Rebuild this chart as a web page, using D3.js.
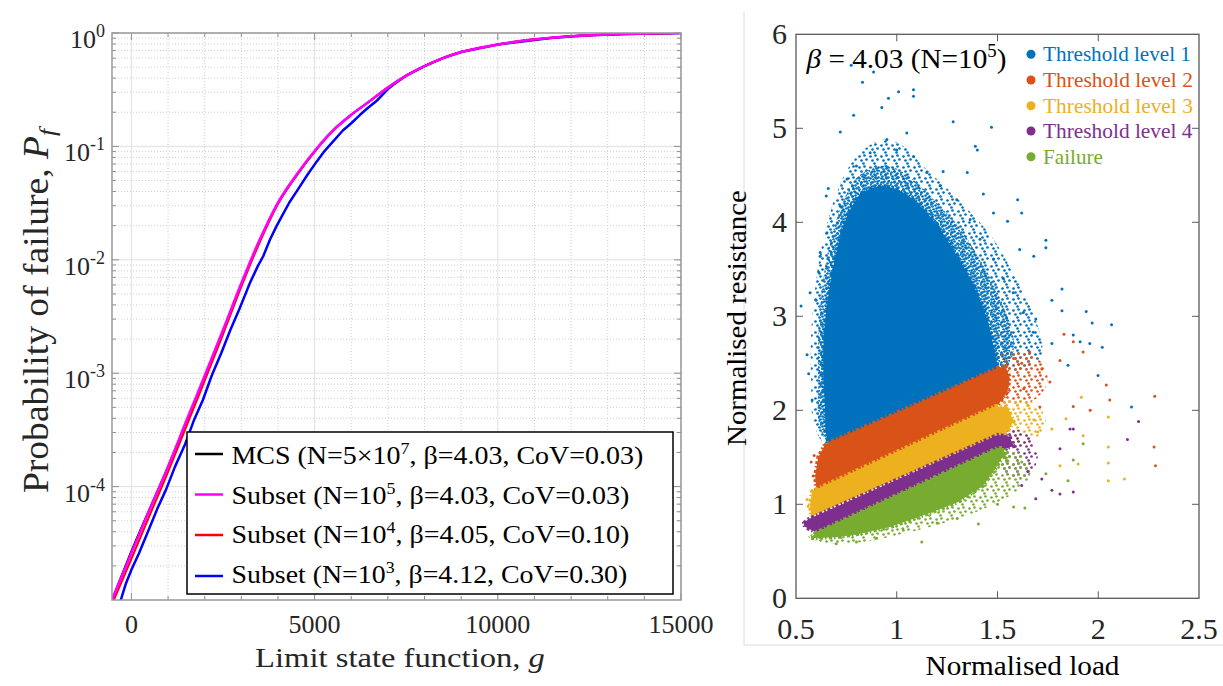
<!DOCTYPE html>
<html>
<head>
<meta charset="utf-8">
<script src="https://cdn.jsdelivr.net/npm/d3@7"></script>
<style>
  body { margin: 0; background: #fff; }
  svg { display: block; }
  text { font-family: "Liberation Serif", "Times New Roman", serif; }
</style>
</head>
<body>
<div id="vis"></div>
<script>
// ---------- left panel: Pf vs limit state function ----------
const gTicks = [0, 5000, 10000, 15000];
const gTickLabels = ["0", "5000", "10000", "15000"];
const pfTicks = [1, 0.1, 0.01, 0.001, 0.0001];
const pfTickExp = ["0", "-1", "-2", "-3", "-4"];

const gMCS = [-530, 0, 500, 1000, 1500, 2000, 2500, 3000, 3500, 4000, 4500, 5000, 5500, 6000, 6500, 7000, 7500, 8000, 8500, 9000, 9500, 10000, 10700, 11500, 12500, 13500, 15000];
const pfMCS = [1.0e-5, 2.7e-5, 6.4e-5, 1.5e-4, 3.7e-4, 9.3e-4, 2.35e-3, 6.1e-3, 0.0148, 0.0315, 0.055, 0.090, 0.137, 0.19, 0.25, 0.33, 0.42, 0.51, 0.60, 0.68, 0.74, 0.79, 0.86, 0.91, 0.955, 0.982, 1.0];

const gSub5 = [-530, 0, 500, 1000, 1500, 2000, 2500, 3000, 3500, 4000, 4500, 5000, 5500, 6000, 6500, 7000, 7500, 8000, 8500, 9000, 9500, 10000, 10700, 11500, 12500, 13500, 15000];
const pfSub5 = [1.0e-5, 2.6e-5, 6.3e-5, 1.5e-4, 3.8e-4, 9.5e-4, 2.4e-3, 6.2e-3, 0.015, 0.032, 0.056, 0.091, 0.138, 0.19, 0.25, 0.33, 0.42, 0.51, 0.60, 0.68, 0.74, 0.79, 0.86, 0.91, 0.955, 0.982, 1.0];

const gSub4 = [-480, 0, 500, 1000, 1500, 2000, 2500, 3000, 3500, 4000, 4500, 5000, 5500, 6000, 6500, 7000, 7500, 8000, 9000, 10000, 11500, 13500, 15000];
const pfSub4 = [1.0e-5, 2.3e-5, 5.6e-5, 1.35e-4, 3.4e-4, 8.6e-4, 2.2e-3, 5.8e-3, 0.0142, 0.031, 0.055, 0.090, 0.137, 0.19, 0.25, 0.33, 0.42, 0.51, 0.68, 0.79, 0.91, 0.982, 1.0];

const gSub3 = [-290, -150, 0, 210, 450, 700, 950, 1190, 1450, 1700, 1950, 2190, 2450, 2700, 2950, 3230, 3450, 3600, 3780, 3950, 4100, 4310, 4550, 4800, 5050, 5270, 5500, 5770, 6000, 6240, 6450, 6680, 6850, 7000, 7200, 7500, 8000, 8500, 9000, 10000, 11500, 12500, 13500, 15000];
const pfSub3 = [1.0e-5, 1.4e-5, 1.85e-5, 2.6e-5, 4.0e-5, 6.3e-5, 9.5e-5, 1.5e-4, 2.3e-4, 3.8e-4, 5.8e-4, 9.5e-4, 1.5e-3, 2.4e-3, 3.7e-3, 6.2e-3, 8.8e-3, 0.0108, 0.015, 0.0195, 0.024, 0.032, 0.042, 0.056, 0.073, 0.091, 0.110, 0.138, 0.16, 0.19, 0.218, 0.25, 0.285, 0.32, 0.36, 0.42, 0.51, 0.60, 0.68, 0.79, 0.91, 0.955, 0.982, 1.0];

const seriesNames = ["MCS", "Subset", "Subset", "Subset"];
const seriesN = ["5×10", "10", "10", "10"];
const seriesExp = ["7", "5", "4", "3"];
const seriesBeta = ["4.03", "4.03", "4.05", "4.12"];
const seriesCoV = ["0.03", "0.03", "0.10", "0.30"];
const seriesColors = ["#000000", "#ff00ff", "#ff0000", "#0000ff"];

// ---------- right panel: scatter of samples ----------
const loadTicks = [0.5, 1, 1.5, 2, 2.5];
const loadTickLabels = ["0.5", "1", "1.5", "2", "2.5"];
const resTicks = [0, 1, 2, 3, 4, 5, 6];
const levelNames = ["Threshold level 1", "Threshold level 2", "Threshold level 3", "Threshold level 4", "Failure"];
const levelColors = ["#0072BD", "#D95319", "#EDB120", "#7E2F8E", "#77AC30"];

// outlines of the clouds [load, resistance]: sparse fringe, thick fringe, solid core
const blueOuter = [[0.59, 1.85], [0.575, 2.3], [0.575, 2.8], [0.59, 3.2], [0.615, 3.6], [0.65, 3.95], [0.70, 4.3], [0.76, 4.58], [0.84, 4.78], [0.94, 4.88], [1.04, 4.8], [1.13, 4.6], [1.24, 4.38], [1.36, 4.12], [1.48, 3.82], [1.58, 3.45], [1.66, 3.12], [1.71, 2.82], [1.72, 2.6], [1.66, 2.45], [1.55, 2.4], [1.0, 1.9], [0.66, 1.62]];
const blueInner = [[0.62, 1.80], [0.61, 2.3], [0.61, 2.8], [0.625, 3.2], [0.65, 3.6], [0.69, 3.95], [0.74, 4.25], [0.80, 4.47], [0.88, 4.58], [0.96, 4.6], [1.04, 4.52], [1.12, 4.38], [1.21, 4.18], [1.31, 3.95], [1.40, 3.65], [1.48, 3.35], [1.54, 3.05], [1.58, 2.78], [1.57, 2.55], [1.52, 2.42], [1.0, 1.92], [0.69, 1.62]];
const blueCore = [[0.655, 1.70], [0.645, 1.95], [0.638, 2.3], [0.635, 2.65], [0.648, 3.0], [0.67, 3.35], [0.70, 3.68], [0.735, 3.95], [0.777, 4.17], [0.827, 4.31], [0.885, 4.37], [0.95, 4.38], [1.017, 4.33], [1.083, 4.24], [1.15, 4.10], [1.215, 3.93], [1.28, 3.71], [1.347, 3.47], [1.41, 3.19], [1.455, 2.92], [1.48, 2.68], [1.50, 2.46], [1.50, 2.40], [1.0, 1.92], [0.69, 1.62]];
const orangeHalo = [[1.45, 2.48], [1.55, 2.62], [1.66, 2.6], [1.74, 2.45], [1.74, 2.25], [1.66, 2.08], [1.55, 2.05], [1.48, 2.1]];
const orangeCore = [[0.61, 1.50], [0.64, 1.62], [0.66, 1.655], [1.0, 1.975], [1.50, 2.45], [1.54, 2.47], [1.56, 2.35], [1.55, 2.2], [1.50, 2.05], [0.60, 1.155], [0.595, 1.30]];
const yellowHalo = [[1.48, 2.0], [1.58, 2.12], [1.68, 2.08], [1.74, 1.9], [1.70, 1.72], [1.60, 1.62], [1.50, 1.70]];
const yellowCore = [[0.58, 1.14], [1.49, 2.045], [1.55, 2.03], [1.58, 1.88], [1.54, 1.74], [1.50, 1.738], [0.575, 0.87], [0.57, 1.0]];
const purpleHalo = [[1.47, 1.70], [1.57, 1.80], [1.66, 1.72], [1.70, 1.50], [1.65, 1.30], [1.56, 1.30], [1.48, 1.50]];
const purpleCore = [[0.56, 0.84], [1.50, 1.738], [1.56, 1.72], [1.58, 1.62], [1.55, 1.60], [1.50, 1.60], [0.60, 0.70], [0.545, 0.76], [0.54, 0.80]];
const greenHalo = [[0.56, 0.66], [0.62, 0.60], [0.80, 0.59], [0.98, 0.66], [1.15, 0.75], [1.32, 0.86], [1.46, 0.98], [1.58, 1.12], [1.66, 1.30], [1.64, 1.50], [1.55, 1.58], [1.45, 1.50], [0.60, 0.70]];
const greenCore = [[0.60, 0.70], [1.50, 1.60], [1.53, 1.60], [1.55, 1.45], [1.53, 1.52], [1.49, 1.38], [1.43, 1.20], [1.30, 1.02], [1.13, 0.88], [0.97, 0.76], [0.80, 0.68], [0.70, 0.65], [0.571, 0.64]];

// scattered single samples [load, resistance]
const bluePts = [[0.774, 5.67], [0.885, 5.60], [0.83, 5.49], [1.009, 5.39], [1.083, 5.41], [1.083, 5.34], [0.959, 5.32], [0.926, 5.22], [0.786, 5.14], [0.72, 4.96], [1.05, 4.95], [1.28, 5.07], [1.47, 5.01], [1.39, 4.81], [1.40, 4.77], [1.35, 4.53], [1.23, 4.54], [0.66, 4.36], [0.65, 4.28], [1.43, 4.30], [1.60, 4.24], [1.62, 4.10], [1.48, 4.10], [1.55, 4.01], [1.74, 3.81], [1.74, 3.73], [1.61, 3.71], [1.68, 3.64], [0.62, 3.64], [0.57, 3.25], [0.525, 3.11], [0.60, 3.17], [1.82, 3.29], [1.77, 3.17], [1.94, 3.05], [1.97, 2.93], [2.066, 2.91], [1.876, 2.80], [1.82, 3.06], [1.69, 2.97], [0.555, 2.59], [0.563, 2.39], [0.58, 2.11], [2.02, 2.67], [1.999, 2.37], [1.958, 2.71], [2.165, 2.035], [1.91, 2.73], [1.85, 2.48], [1.77, 2.71], [0.951, 4.88], [1.0, 4.77], [0.868, 4.74], [1.083, 4.70], [0.80, 4.60], [1.149, 4.53], [1.215, 4.39], [0.753, 4.46], [0.72, 4.17], [1.298, 4.24], [1.364, 4.03], [1.413, 3.82], [1.48, 3.61], [1.53, 3.40], [1.578, 3.25], [1.628, 3.04], [1.678, 2.83], [0.654, 3.89], [0.62, 3.68], [0.612, 3.47]];
const orangePts = [[1.83, 2.81], [1.876, 2.73], [1.925, 2.62], [1.81, 2.53], [2.04, 2.27], [2.057, 2.11], [2.28, 2.15], [2.277, 1.61], [2.284, 1.41], [1.96, 2.0], [1.876, 2.04], [1.76, 2.30], [1.72, 2.44], [1.66, 2.62], [1.71, 2.035], [1.63, 2.23], [0.575, 1.45], [0.585, 1.30], [0.59, 1.52], [1.58, 2.55], [1.62, 2.5]];
const yellowPts = [[2.05, 1.93], [2.05, 1.61], [2.05, 1.44], [2.05, 1.25], [2.13, 1.27], [1.925, 1.73], [1.916, 2.14], [1.90, 1.43], [1.81, 1.41], [1.77, 1.80], [1.84, 1.91], [1.70, 1.77], [0.555, 1.05], [0.56, 0.98], [1.65, 2.05], [1.68, 1.9]];
const purplePts = [[2.20, 1.88], [2.145, 1.69], [1.876, 1.80], [1.86, 1.80], [1.81, 1.11], [1.876, 1.13], [1.69, 1.06], [1.77, 1.15], [1.81, 1.59], [1.72, 1.27], [0.546, 0.79], [1.65, 1.35], [1.62, 1.2]];
const greenPts = [[1.925, 1.645], [1.876, 1.47], [1.85, 1.25], [1.74, 1.325], [1.636, 0.96], [1.58, 0.97], [1.405, 0.79], [1.124, 0.60], [1.03, 0.74], [0.70, 0.58], [1.62, 1.45], [0.9, 0.64], [0.8, 0.6], [1.2, 0.8], [1.3, 0.85], [1.5, 1.0]];

const FONT = "Liberation Serif, Times New Roman, serif";

const svg = d3.select("#vis").append("svg")
  .attr("width", 1223)
  .attr("height", 686);
const defs = svg.append("defs");

// draws a text inside a group, then stretches it to the wanted width
const fitted = (parent, x, y, o) => {
  const g = parent.append("g");
  const t = g.append("text")
    .attr("font-family", FONT)
    .attr("text-anchor", o.anchor || "start")
    .style("font-size", o.size + "px")
    .attr("fill", o.color || "#000");
  o.build(t);
  const w = t.node().getBBox().width;
  const k = o.width ? o.width / w : 1;
  g.attr("transform", `translate(${x},${y}) rotate(${o.rotate || 0}) scale(${k},1)`);
  return g;
};

// ================= LEFT =================
const L = { left: 112, right: 681, top: 33, bottom: 600 };
const xG = d3.scaleLinear().domain([-530, 15000]).range([L.left, L.right]);
const yP = d3.scaleLog().domain([1e-5, 1]).range([L.bottom, L.top]);

defs.append("clipPath").attr("id", "clipL")
  .append("rect").attr("x", L.left).attr("y", L.top)
  .attr("width", L.right - L.left).attr("height", L.bottom - L.top);

const gMinor = d3.range(1000, 15000, 1000).filter(v => v % 5000 !== 0);
const pfMinor = yP.ticks().filter(v => !pfTicks.includes(v) && v > 1e-5 && v < 1);

const left = svg.append("g");

left.selectAll(".gmin").data(gMinor).join("line")
  .attr("x1", d => xG(d)).attr("x2", d => xG(d))
  .attr("y1", L.top).attr("y2", L.bottom)
  .attr("stroke", "#cfcfcf").attr("stroke-dasharray", "1,2");
left.selectAll(".pmin").data(pfMinor).join("line")
  .attr("x1", L.left).attr("x2", L.right)
  .attr("y1", d => yP(d)).attr("y2", d => yP(d))
  .attr("stroke", "#cfcfcf").attr("stroke-dasharray", "1,2");
left.selectAll(".gmaj").data(gTicks).join("line")
  .attr("x1", d => xG(d)).attr("x2", d => xG(d))
  .attr("y1", L.top).attr("y2", L.bottom)
  .attr("stroke", "#e1e1e1");
left.selectAll(".pmaj").data(pfTicks).join("line")
  .attr("x1", L.left).attr("x2", L.right)
  .attr("y1", d => yP(d)).attr("y2", d => yP(d))
  .attr("stroke", "#e1e1e1");

// inward ticks
const tickColor = "#8f8f8f";
[[gTicks, 7], [gMinor, 4]].forEach(([vals, len]) => {
  vals.forEach(v => {
    left.append("line").attr("x1", xG(v)).attr("x2", xG(v)).attr("y1", L.bottom).attr("y2", L.bottom - len).attr("stroke", tickColor);
    left.append("line").attr("x1", xG(v)).attr("x2", xG(v)).attr("y1", L.top).attr("y2", L.top + len).attr("stroke", tickColor);
  });
});
[[pfTicks, 7], [pfMinor, 4]].forEach(([vals, len]) => {
  vals.forEach(v => {
    left.append("line").attr("x1", L.left).attr("x2", L.left + len).attr("y1", yP(v)).attr("y2", yP(v)).attr("stroke", tickColor);
    left.append("line").attr("x1", L.right).attr("x2", L.right - len).attr("y1", yP(v)).attr("y2", yP(v)).attr("stroke", tickColor);
  });
});

// curves
const curves = [
  { g: gSub3, pf: pfSub3, color: seriesColors[3], w: 2.5, curve: d3.curveLinear },
  { g: gMCS, pf: pfMCS, color: seriesColors[0], w: 2, curve: d3.curveMonotoneX },
  { g: gSub4, pf: pfSub4, color: seriesColors[2], w: 2, curve: d3.curveMonotoneX },
  { g: gSub5, pf: pfSub5, color: seriesColors[1], w: 2.6, curve: d3.curveMonotoneX }
];
const curveG = left.append("g").attr("clip-path", "url(#clipL)");
curves.forEach(c => {
  const pts = c.g.map((g, i) => [g, c.pf[i]]);
  curveG.append("path")
    .datum(pts)
    .attr("fill", "none")
    .attr("stroke", c.color)
    .attr("stroke-width", c.w)
    .attr("stroke-linejoin", "round")
    .attr("d", d3.line().curve(c.curve).x(d => xG(d[0])).y(d => yP(d[1])));
});

left.append("rect")
  .attr("x", L.left).attr("y", L.top)
  .attr("width", L.right - L.left).attr("height", L.bottom - L.top)
  .attr("fill", "none").attr("stroke", "#999").attr("stroke-width", 1.5);

// tick labels
gTicks.forEach((v, i) => {
  left.append("text")
    .attr("font-family", FONT)
    .attr("x", xG(v)).attr("y", 633)
    .attr("text-anchor", "middle")
    .style("font-size", "26px")
    .attr("fill", "#262626")
    .text(gTickLabels[i]);
});
pfTicks.forEach((v, i) => {
  const t = left.append("text")
    .attr("font-family", FONT)
    .attr("x", 105).attr("y", yP(v) + 15)
    .attr("text-anchor", "end")
    .style("font-size", "26px")
    .attr("fill", "#262626");
  t.append("tspan").text("10");
  t.append("tspan").attr("dy", -11).style("font-size", "18px").text(pfTickExp[i]);
});

fitted(left, 400, 667, {
  size: 28, width: 290, anchor: "middle", color: "#262626",
  build: t => {
    t.append("tspan").text("Limit state function, ");
    t.append("tspan").style("font-style", "italic").text("g");
  }
});
fitted(left, 48, 311, {
  size: 35, width: 368, anchor: "middle", rotate: -90, color: "#262626",
  build: t => {
    t.append("tspan").text("Probability of failure, ");
    t.append("tspan").style("font-style", "italic").text("P");
    t.append("tspan").attr("dy", 7).style("font-style", "italic").style("font-size", "24px").text("f");
  }
});

// legend
left.append("rect")
  .attr("x", 187).attr("y", 432).attr("width", 486).attr("height", 162)
  .attr("fill", "#fff").attr("stroke", "#000").attr("stroke-width", 1.5);
const rowLine = [454, 494.5, 535, 576];
const rowBase = [464, 504, 543, 583];
const rowWidth = [412, 398, 398, 396];
seriesNames.forEach((name, i) => {
  left.append("line")
    .attr("x1", 195).attr("x2", 223)
    .attr("y1", rowLine[i]).attr("y2", rowLine[i])
    .attr("stroke", seriesColors[i]).attr("stroke-width", 2.5);
  fitted(left, 231.5, rowBase[i], {
    size: 25, width: rowWidth[i],
    build: t => {
      t.append("tspan").text(`${name} (N=${seriesN[i]}`);
      t.append("tspan").attr("dy", -10).style("font-size", "16px").text(seriesExp[i]);
      t.append("tspan").attr("dy", 10).text(`, β=${seriesBeta[i]}, CoV=${seriesCoV[i]})`);
    }
  });
});

// ================= RIGHT =================
const R = { left: 796, right: 1199, top: 34.3, bottom: 598.3 };
const xL = d3.scaleLinear().domain([0.5, 2.5]).range([R.left, R.right]);
const yR = d3.scaleLinear().domain([0, 6]).range([R.bottom, R.top]);

const right = svg.append("g");

// faint panel border
right.append("line").attr("x1", 744).attr("x2", 744).attr("y1", 12).attr("y2", 645).attr("stroke", "#dcdcdc");
right.append("line").attr("x1", 744).attr("x2", 1223).attr("y1", 645).attr("y2", 645).attr("stroke", "#dcdcdc");

defs.append("clipPath").attr("id", "clipR")
  .append("rect").attr("x", R.left).attr("y", R.top)
  .attr("width", R.right - R.left).attr("height", R.bottom - R.top);

// speckle textures for the thinning edges of each cloud
const denseDots = [[1, 2], [4, 1], [7, 3], [2, 6], [5, 5], [8, 7], [3, 9], [6, 8], [9, 0], [0, 4]];
const sparseDots = [[1, 2], [6, 1], [3, 6], [8, 5], [5, 9]];
levelColors.forEach((c, i) => {
  [["dense", denseDots, 10], ["sparse", sparseDots, 11]].forEach(([kind, dots, size]) => {
    const p = defs.append("pattern")
      .attr("id", `${kind}${i}`)
      .attr("patternUnits", "userSpaceOnUse")
      .attr("width", size).attr("height", size);
    p.selectAll("circle").data(dots).join("circle")
      .attr("cx", d => d[0] + 0.5).attr("cy", d => d[1] + 0.5)
      .attr("r", 1.35).attr("fill", c);
  });
});

const cloud = right.append("g").attr("clip-path", "url(#clipR)");
const area = d3.line().x(d => xL(d[0])).y(d => yR(d[1]));
const smooth = d3.curveCatmullRomClosed.alpha(0.5);

const halos = [blueOuter, orangeHalo, yellowHalo, purpleHalo, greenHalo];
const cores = [blueCore, orangeCore, yellowCore, purpleCore, greenCore];
const pts = [bluePts, orangePts, yellowPts, purplePts, greenPts];

halos.forEach((h, i) => {
  cloud.append("path").datum(h)
    .attr("d", area.curve(smooth))
    .attr("fill", `url(#sparse${i})`);
});
cloud.append("path").datum(blueInner)
  .attr("d", area.curve(smooth))
  .attr("fill", "url(#dense0)");
cores.forEach((c, i) => {
  cloud.append("path").datum(c)
    .attr("d", area.curve(i === 0 ? smooth : d3.curveLinearClosed))
    .attr("fill", levelColors[i])
    .attr("stroke", levelColors[i])
    .attr("stroke-width", 4)
    .attr("stroke-dasharray", "1.5 2 3 2.5");
});
pts.forEach((p, i) => {
  cloud.selectAll(null).data(p).join("circle")
    .attr("cx", d => xL(d[0])).attr("cy", d => yR(d[1]))
    .attr("r", 1.5).attr("fill", levelColors[i]);
});

right.append("rect")
  .attr("x", R.left).attr("y", R.top)
  .attr("width", R.right - R.left).attr("height", R.bottom - R.top)
  .attr("fill", "none").attr("stroke", "#5a5a5a").attr("stroke-width", 1.3);

loadTicks.slice(1, -1).forEach(v => {
  right.append("line").attr("x1", xL(v)).attr("x2", xL(v)).attr("y1", R.bottom).attr("y2", R.bottom - 7).attr("stroke", "#5a5a5a");
  right.append("line").attr("x1", xL(v)).attr("x2", xL(v)).attr("y1", R.top).attr("y2", R.top + 7).attr("stroke", "#5a5a5a");
});
resTicks.slice(1, -1).forEach(v => {
  right.append("line").attr("x1", R.left).attr("x2", R.left + 7).attr("y1", yR(v)).attr("y2", yR(v)).attr("stroke", "#5a5a5a");
  right.append("line").attr("x1", R.right).attr("x2", R.right - 7).attr("y1", yR(v)).attr("y2", yR(v)).attr("stroke", "#5a5a5a");
});

loadTicks.forEach((v, i) => {
  right.append("text").attr("font-family", FONT)
    .attr("x", xL(v)).attr("y", 639)
    .attr("text-anchor", "middle").style("font-size", "30px").attr("fill", "#262626")
    .text(loadTickLabels[i]);
});
resTicks.forEach(v => {
  right.append("text").attr("font-family", FONT)
    .attr("x", 787).attr("y", yR(v) + 10)
    .attr("text-anchor", "end").style("font-size", "30px").attr("fill", "#262626")
    .text(v);
});

fitted(right, 1022.5, 675, {
  size: 28, width: 194, anchor: "middle", color: "#000",
  build: t => t.text("Normalised load")
});
fitted(right, 746, 318, {
  size: 28, width: 256, anchor: "middle", rotate: -90, color: "#000",
  build: t => t.text("Normalised resistance")
});
fitted(right, 806.5, 68, {
  size: 28, width: 201,
  build: t => {
    t.append("tspan").style("font-style", "italic").text("β");
    t.append("tspan").text(" = 4.03 (N=10");
    t.append("tspan").attr("dy", -11).style("font-size", "18px").text("5");
    t.append("tspan").attr("dy", 11).text(")");
  }
});

const legRows = [54.3, 80, 105.7, 131, 156.7];
const legWidth = [148, 150, 150, 150, 60];
levelNames.forEach((name, i) => {
  right.append("circle").attr("cx", 1031).attr("cy", legRows[i]).attr("r", 4.5).attr("fill", levelColors[i]);
  fitted(right, 1043, legRows[i] + 7, {
    size: 21, width: legWidth[i], color: levelColors[i],
    build: t => t.text(name)
  });
});
</script>
</body>
</html>
